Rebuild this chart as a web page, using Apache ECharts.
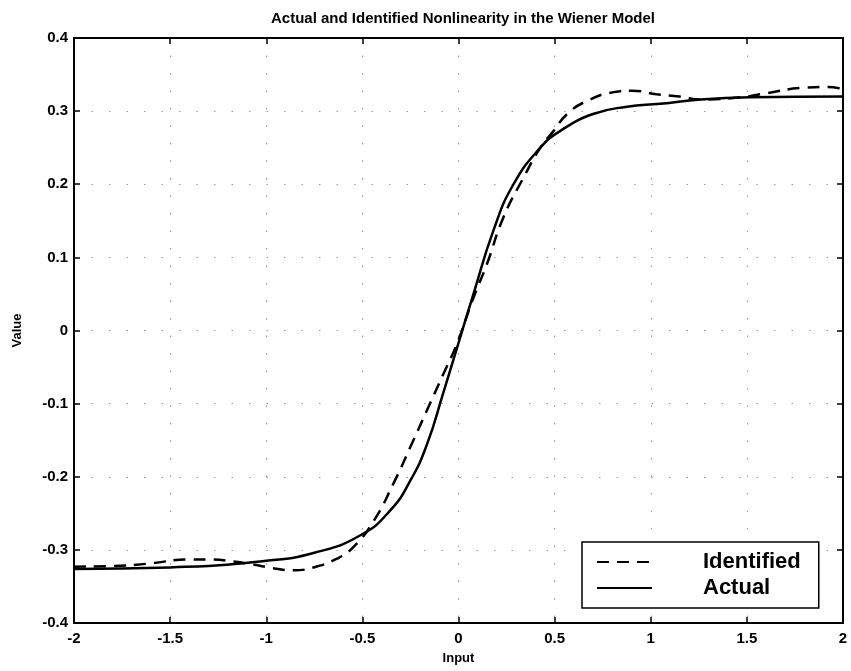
<!DOCTYPE html>
<html>
<head>
<meta charset="utf-8">
<script src="https://cdn.jsdelivr.net/npm/echarts@6/dist/echarts.min.js"></script>
<style>
  html, body { margin: 0; padding: 0; background: #fff; }
  #chart { width: 851px; height: 671px; }
</style>
</head>
<body>
<div id="chart"></div>
<script>
// curve samples
var identX = [-2, -1.8, -1.62, -1.40, -1.29, -1.17, -1.07, -0.965, -0.86, -0.755, -0.632, -0.546, -0.44, -0.338, -0.25, -0.164, -0.078, -0.008, 0.078, 0.148, 0.234, 0.338, 0.426, 0.495, 0.565, 0.669, 0.808, 0.9, 1.03, 1.15, 1.26, 1.47, 1.59, 1.80, 1.92, 2];
var identY = [-0.323, -0.322, -0.319, -0.313, -0.313, -0.316, -0.32, -0.325, -0.328, -0.324, -0.312, -0.296, -0.26, -0.209, -0.159, -0.109, -0.059, -0.018, 0.045, 0.091, 0.155, 0.209, 0.25, 0.273, 0.296, 0.314, 0.326, 0.328, 0.323, 0.32, 0.316, 0.319, 0.324, 0.332, 0.333, 0.33];
var actualX = [-2, -1.5, -1, -0.75, -0.51, -0.355, -0.25, -0.163, -0.08, -0.008, 0.078, 0.182, 0.286, 0.426, 0.53, 0.70, 0.876, 1.05, 1.26, 1.52, 2];
var actualY = [-0.326, -0.324, -0.315, -0.304, -0.28, -0.246, -0.205, -0.155, -0.086, -0.024, 0.05, 0.137, 0.2, 0.25, 0.273, 0.296, 0.306, 0.31, 0.316, 0.319, 0.32];

function pairs(xs, ys) {
    var out = [];
    for (var i = 0; i < xs.length; i++) out.push([xs[i], ys[i]]);
    return out;
}

var font = 'Liberation Sans, Arial, Helvetica, sans-serif';
var axisLine = { show: true, onZero: false, lineStyle: { color: '#000', width: 2 } };
var tick = { show: true, inside: true, length: 6, lineStyle: { color: '#000', width: 1.5 } };
var grid = { show: true, lineStyle: { color: '#999', width: 1, type: [1.5, 16] } };

var myChart = echarts.init(document.getElementById('chart'));
myChart.setOption({
    animation: false,
    backgroundColor: '#fff',
    title: {
        text: 'Actual and Identified Nonlinearity in the Wiener Model',
        left: 458, textAlign: 'center', top: 6,
        textStyle: { fontFamily: font, fontSize: 15, fontWeight: 'bold', color: '#000' }
    },
    grid: { left: 74, right: 8, top: 38, bottom: 48 },
    xAxis: [{
        type: 'value', min: -2, max: 2, interval: 0.5,
        name: 'Input', nameLocation: 'middle', nameGap: 29,
        nameTextStyle: { fontFamily: font, fontSize: 13, fontWeight: 'bold', color: '#000' },
        axisLine: axisLine, axisTick: tick, splitLine: grid,
        axisLabel: { margin: 8, fontFamily: font, fontSize: 15, fontWeight: 'bold', color: '#000' }
    }, {
        type: 'value', min: -2, max: 2, interval: 0.5, position: 'top',
        axisLine: axisLine, axisTick: tick, splitLine: { show: false }, axisLabel: { show: false }
    }],
    yAxis: [{
        type: 'value', min: -0.4, max: 0.4, interval: 0.1,
        name: 'Value', nameLocation: 'middle', nameGap: 50,
        nameTextStyle: { fontFamily: font, fontSize: 13, fontWeight: 'bold', color: '#000' },
        axisLine: axisLine, axisTick: tick, splitLine: grid,
        axisLabel: { margin: 6, fontFamily: font, fontSize: 15, fontWeight: 'bold', color: '#000' }
    }, {
        type: 'value', min: -0.4, max: 0.4, interval: 0.1, position: 'right',
        axisLine: axisLine, axisTick: tick, splitLine: { show: false }, axisLabel: { show: false }
    }],
    legend: {
        orient: 'vertical', left: 582, top: 542,
        padding: [9, 18, 9, 14], itemGap: 4,
        itemWidth: 55, itemHeight: 18,
        backgroundColor: '#fff', borderColor: '#000', borderWidth: 1.5,
        itemStyle: { opacity: 0 },
        textStyle: { fontFamily: font, fontSize: 22, fontWeight: 'bold', color: '#000', padding: [0, 0, 0, 46] },
        data: ['Identified', 'Actual']
    },
    series: [{
        name: 'Identified', type: 'line', smooth: true, symbol: 'none',
        data: pairs(identX, identY),
        lineStyle: { color: '#000', width: 2.5, type: [12, 8] },
        itemStyle: { color: '#000' }
    }, {
        name: 'Actual', type: 'line', smooth: true, symbol: 'none',
        data: pairs(actualX, actualY),
        lineStyle: { color: '#000', width: 2.5 },
        itemStyle: { color: '#000' }
    }]
});
</script>
</body>
</html>
